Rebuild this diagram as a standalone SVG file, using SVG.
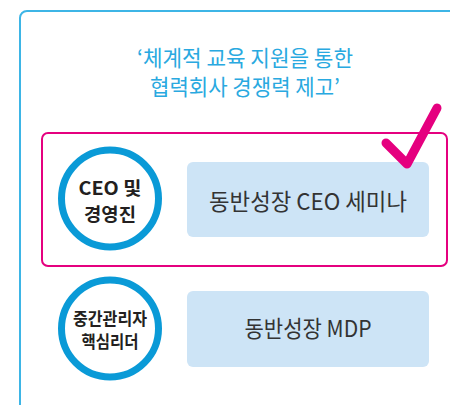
<svg xmlns="http://www.w3.org/2000/svg" width="450" height="405" viewBox="0 0 450 405">
<style>
.frame{fill:none;stroke:#3db5e6;stroke-width:2}
.ring{fill:#fff;stroke:#0a9ad7;stroke-width:7}
.box{fill:#cde4f6}
.lbl{font-family:"Noto Sans CJK KR","Liberation Sans",sans-serif;font-weight:700;font-size:18.5px;fill:#231f20;text-anchor:middle}
.sm{font-size:17.5px}
.prog{font-family:"Noto Sans CJK KR","Liberation Sans",sans-serif;font-size:23px;fill:#333;text-anchor:middle}
.title{font-family:"Noto Sans CJK KR","Liberation Sans",sans-serif;font-size:21.5px;fill:#29a9e0;text-anchor:middle}
</style>
<rect class="frame" x="20" y="11" width="460" height="420" rx="7"/>
<g id="title">
<text class="title" x="245" y="66" textLength="216" lengthAdjust="spacingAndGlyphs">‘체계적 교육 지원을 통한</text>
<text class="title" x="245" y="95" textLength="190" lengthAdjust="spacingAndGlyphs">협력회사 경쟁력 제고’</text>
</g>
<g id="highlight">
<rect x="42" y="133" width="405" height="133" rx="6" fill="none" stroke="#e5007f" stroke-width="2"/>
</g>
<g id="ceo">
<circle class="ring" cx="110" cy="198.5" r="48.5"/>
<text class="lbl" x="110" y="194.5" textLength="63" lengthAdjust="spacingAndGlyphs">CEO 및</text>
<text class="lbl" x="110" y="220.5" textLength="52" lengthAdjust="spacingAndGlyphs">경영진</text>
</g>
<g id="ceo-seminar">
<rect class="box" x="187" y="162" width="242" height="75" rx="6"/>
<text class="prog" x="308" y="210" textLength="198" lengthAdjust="spacingAndGlyphs">동반성장 CEO 세미나</text>
</g>
<g id="check">
<polyline points="386,143 407,164 437,108" fill="none" stroke="#e5007f" stroke-width="9" stroke-linecap="round" stroke-linejoin="round"/>
</g>
<g id="mid">
<circle class="ring" cx="110" cy="328.5" r="48.5"/>
<text class="lbl sm" x="110" y="324.5" textLength="74" lengthAdjust="spacingAndGlyphs">중간관리자</text>
<text class="lbl sm" x="110" y="348" textLength="57" lengthAdjust="spacingAndGlyphs">핵심리더</text>
</g>
<g id="mdp">
<rect class="box" x="187" y="291" width="242" height="76" rx="6"/>
<text class="prog" x="308" y="337" textLength="127" lengthAdjust="spacingAndGlyphs">동반성장 MDP</text>
</g>
<g id="connectors"></g>
</svg>
